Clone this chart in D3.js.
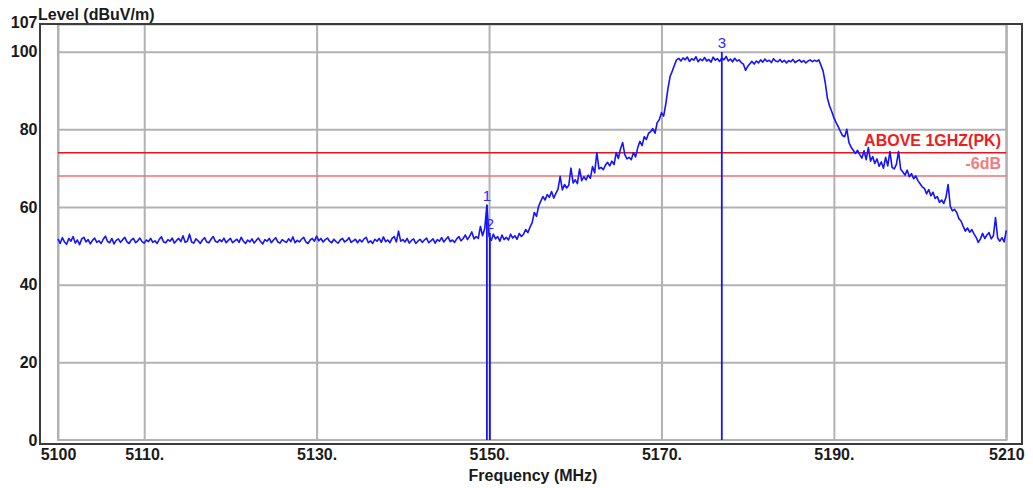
<!DOCTYPE html>
<html>
<head>
<meta charset="utf-8">
<script src="https://cdn.jsdelivr.net/npm/d3@7"></script>
<style>
  html, body { margin: 0; padding: 0; background: #ffffff; }
  svg { display: block; }
  text { font-family: "Liberation Sans", Arial, sans-serif; }
</style>
</head>
<body>
<svg id="chart" width="1033" height="488"></svg>
<script>
// ---- Data ----
const freqStart = 5100;   // MHz, first sweep point
const freqStep = 0.25;    // MHz between sweep points
const levels = [
  // 5100
  51.8, 50.6, 52.1, 51.0, 50.4, 51.9, 51.2, 52.4, 50.7, 51.5,
  50.3, 51.8, 52.2, 51.0, 51.6, 50.5, 51.4, 52.0, 50.9, 51.3,
  // 5105
  50.6, 51.7, 52.5, 51.1, 50.8, 51.9, 50.5, 51.4, 51.8, 50.9,
  51.6, 52.2, 51.0, 50.6, 51.5, 51.9, 50.8, 51.3, 52.0, 51.1,
  // 5110
  50.7, 51.5, 51.1, 51.9, 50.9, 51.3, 50.6, 51.7, 52.3, 51.0,
  50.8, 51.6, 51.2, 52.0, 50.7, 51.4, 51.9, 51.1, 52.6, 50.9,
  // 5115
  51.2, 53.0, 51.0, 50.7, 51.8, 51.3, 50.6, 51.5, 52.1, 51.0,
  50.8, 51.7, 52.4, 51.2, 50.9, 51.6, 51.1, 52.0, 50.8, 51.4,
  // 5120
  51.9, 50.8, 51.3, 51.7, 50.9, 52.2, 51.2, 50.6, 51.5, 51.0,
  51.8, 50.7, 51.4, 52.0, 51.1, 50.5, 51.6, 51.2, 51.9, 50.8,
  // 5125
  51.5, 52.1, 51.0, 50.7, 51.6, 51.2, 50.9, 51.8, 51.1, 52.3,
  50.8, 51.4, 51.0, 51.7, 52.2, 51.0, 50.6, 51.5, 51.9, 51.2,
  // 5130
  52.5, 51.3, 51.9, 51.0, 51.6, 52.0, 51.2, 50.8, 51.7, 51.1,
  50.7, 51.5, 51.9, 51.0, 51.4, 52.1, 50.9, 51.3, 51.7, 50.8,
  // 5135
  51.6, 51.0, 51.8, 52.2, 50.8, 51.3, 50.6, 51.7, 51.2, 51.9,
  50.9, 52.3, 51.1, 51.5, 50.8, 51.9, 52.4, 51.0, 53.8, 51.2,
  // 5140
  51.6, 51.0, 51.9, 50.7, 51.4, 51.8, 50.6, 51.2, 51.7, 50.9,
  51.5, 52.0, 50.8, 51.3, 51.8, 50.7, 51.6, 51.2, 52.1, 51.0,
  // 5145
  51.7, 52.3, 51.1, 51.5, 50.9, 51.8, 52.4, 51.3, 51.9, 52.8,
  51.6, 52.5, 53.6, 51.8, 52.4, 51.9, 55.0, 52.6, 54.5, 60.5,
  // 5150
  52.5, 51.4, 53.0, 51.8, 52.4, 51.2, 52.8, 51.6, 52.2, 51.5,
  53.0, 52.0, 52.6, 51.7, 53.2, 52.4, 53.0, 54.2, 53.4, 54.8,
  // 5155
  56.0, 58.6, 57.6, 60.2, 61.5, 62.7, 61.8, 63.2, 62.5, 64.0,
  62.3, 63.5, 64.6, 67.9, 64.4, 65.8, 64.9, 65.6, 70.0, 66.2,
  // 5160
  67.0, 66.0, 69.8, 66.8, 67.8, 67.0, 68.2, 67.4, 70.4, 68.8,
  74.0, 69.8, 70.2, 69.6, 70.8, 71.5, 70.6, 71.8, 70.9, 74.0,
  // 5165
  72.5, 75.0, 76.6, 73.5, 72.4, 72.8, 72.2, 74.0, 72.9, 75.3,
  76.9, 75.8, 78.1, 77.4, 79.0, 79.4, 80.2, 79.0, 81.7, 82.5,
  // 5170
  84.3, 83.4, 86.5, 90.5, 93.6, 95.0, 96.5, 97.9, 98.3, 97.6,
  98.4, 97.9, 98.6, 97.5, 98.2, 97.8, 98.7, 97.4, 98.1, 97.7,
  // 5175
  98.5, 97.6, 98.0, 97.3, 98.6, 97.8, 98.2, 97.5, 98.4, 97.9,
  98.8, 97.6, 98.1, 97.4, 98.3, 97.6, 97.9, 97.2, 96.8, 95.2,
  // 5180
  96.2, 96.9, 97.5, 96.8, 97.6, 97.1, 97.9, 97.3, 98.1, 97.5,
  97.8, 97.2, 98.2, 97.6, 97.4, 98.0, 97.3, 97.8, 97.1, 97.7,
  // 5185
  97.4, 98.0, 97.2, 97.6, 97.9, 97.3, 97.7, 97.1, 97.6, 97.9,
  97.4, 97.8, 97.5, 97.9, 96.5, 95.0, 92.0, 88.0, 86.0, 84.6,
  // 5190
  83.0, 81.8, 80.7, 79.5, 78.4, 78.1, 80.0, 76.6, 75.4, 74.6,
  73.8, 74.6, 73.5, 72.6, 74.5, 72.2, 75.3, 71.8, 73.0, 71.2,
  // 5195
  72.4, 70.5, 71.6, 70.0, 72.8, 70.6, 74.3, 70.2, 69.8, 71.0,
  74.3, 69.7, 69.0, 68.2, 69.5, 67.8, 68.6, 67.3, 68.0, 66.8,
  // 5200
  66.0, 65.2, 64.8, 63.4, 64.5, 62.9, 63.8, 62.2, 62.7, 61.2,
  61.8, 60.9, 62.5, 65.8, 60.2, 59.0, 59.4, 58.6, 57.0, 56.4,
  // 5205
  55.0, 53.8, 54.6, 53.5, 54.2, 53.1, 52.2, 50.9, 51.8, 53.2,
  51.9, 52.8, 53.4, 51.8, 52.6, 57.3, 52.0, 51.2, 52.1, 51.0,
  // 5210
  54.0
];

const xTickValues = [5100, 5110, 5130, 5150, 5170, 5190, 5210];
const xTickLabels = ["5100", "5110.", "5130.", "5150.", "5170.", "5190.", "5210"];
const yTickValues = [0, 20, 40, 60, 80, 100, 107];
const yGridValues = [20, 40, 60, 80, 100];

const limitNames = ["ABOVE 1GHZ(PK)", "-6dB"];
const limitLevels = [74, 68];

const markerIds = ["1", "2", "3"];
const markerFreqs = [5149.75, 5150.1, 5177.0];
const markerLevels = [60.5, 53.3, 99.9];

const xTitle = "Frequency (MHz)";
const yTitle = "Level (dBuV/m)";

// ---- Drawing ----
const svg = d3.select("#chart");
const font = '"Liberation Sans", Arial, sans-serif';

const x = d3.scaleLinear().domain([5100, 5210]).range([58, 1006.3]);
const y = d3.scaleLinear().domain([0, 107]).range([440, 24.5]);

svg.append("rect").attr("x", 0).attr("y", 0).attr("width", 1033).attr("height", 488).attr("fill", "#ffffff");

const gridColor = "#b2b2b2";

// vertical grid via axis
const xGrid = svg.append("g")
  .attr("transform", `translate(0,${y(0)})`)
  .call(d3.axisBottom(x).tickValues(xTickValues).tickSize(-(y(0) - y(107))).tickFormat(""));
xGrid.select(".domain").remove();
xGrid.selectAll(".tick line").attr("stroke", gridColor).attr("stroke-width", 2);

// horizontal grid via axis
const yGrid = svg.append("g")
  .attr("transform", `translate(${x(5100)},0)`)
  .call(d3.axisLeft(y).tickValues(yGridValues).tickSize(-(x(5210) - x(5100))).tickFormat(""));
yGrid.select(".domain").remove();
yGrid.selectAll(".tick line").attr("stroke", gridColor).attr("stroke-width", 2);

// inner gray box
svg.append("rect")
  .attr("x", x(5100)).attr("y", y(107))
  .attr("width", x(5210) - x(5100)).attr("height", y(0) - y(107))
  .attr("fill", "none").attr("stroke", gridColor).attr("stroke-width", 2);

// limit lines
const limitColors = ["#e8141c", "#f27070"];
limitLevels.forEach((lv, i) => {
  svg.append("line")
    .attr("x1", x(5100)).attr("x2", x(5210))
    .attr("y1", y(lv)).attr("y2", y(lv))
    .attr("stroke", limitColors[i]).attr("stroke-width", 1.5);
  svg.append("text")
    .attr("x", 1001).attr("y", y(lv) - 6.5)
    .attr("text-anchor", "end")
    .attr("font-size", 16).attr("font-weight", "bold")
    .attr("fill", i === 0 ? "#ee1c1c" : "#f27c7c")
    .text(limitNames[i]);
});

// trace
const trace = levels.map((v, i) => [freqStart + i * freqStep, v]);
svg.append("path")
  .datum(trace)
  .attr("fill", "none")
  .attr("stroke", "#1414ff")
  .attr("stroke-width", 1.6)
  .attr("stroke-linejoin", "round")
  .attr("d", d3.line().x(d => x(d[0])).y(d => y(d[1])));

// markers
markerIds.forEach((id, i) => {
  const mx = x(markerFreqs[i]);
  svg.append("line")
    .attr("x1", mx).attr("x2", mx)
    .attr("y1", y(markerLevels[i])).attr("y2", y(0))
    .attr("stroke", "#1414ff").attr("stroke-width", 1.8);
  svg.append("text")
    .attr("x", mx).attr("y", y(markerLevels[i]) - 4)
    .attr("text-anchor", "middle")
    .attr("font-size", 15)
    .attr("fill", "#2a2aff")
    .text(id);
});

// x tick labels via axis
const xAxis = svg.append("g")
  .attr("transform", `translate(0,${y(0)})`)
  .call(d3.axisBottom(x).tickValues(xTickValues).tickSize(0).tickPadding(8.5)
    .tickFormat((d, i) => xTickLabels[i]));
xAxis.select(".domain").remove();
xAxis.selectAll("text")
  .attr("font-family", font).attr("font-size", 16).attr("font-weight", "bold").attr("fill", "#1a1a1a");

// y tick labels via axis
const yAxis = svg.append("g")
  .attr("transform", `translate(37.5,0)`)
  .call(d3.axisLeft(y).tickValues(yTickValues).tickSize(0).tickPadding(0));
yAxis.select(".domain").remove();
yAxis.selectAll("text")
  .attr("font-family", font).attr("font-size", 16).attr("font-weight", "bold").attr("fill", "#1a1a1a");
yAxis.selectAll(".tick").filter(d => d === 107).select("text").attr("dy", "0.2em");

// titles
svg.append("text")
  .attr("x", 38).attr("y", 19.5)
  .attr("font-size", 16).attr("font-weight", "bold").attr("fill", "#1a1a1a")
  .text(yTitle);
svg.append("text")
  .attr("x", 533).attr("y", 480.5)
  .attr("text-anchor", "middle")
  .attr("font-size", 16).attr("font-weight", "bold").attr("fill", "#1a1a1a")
  .text(xTitle);

// outer dark frame
svg.append("rect")
  .attr("x", 40).attr("y", 24).attr("width", 982).attr("height", 420)
  .attr("fill", "none").attr("stroke", "#3c3c3c").attr("stroke-width", 2);
</script>
</body>
</html>
